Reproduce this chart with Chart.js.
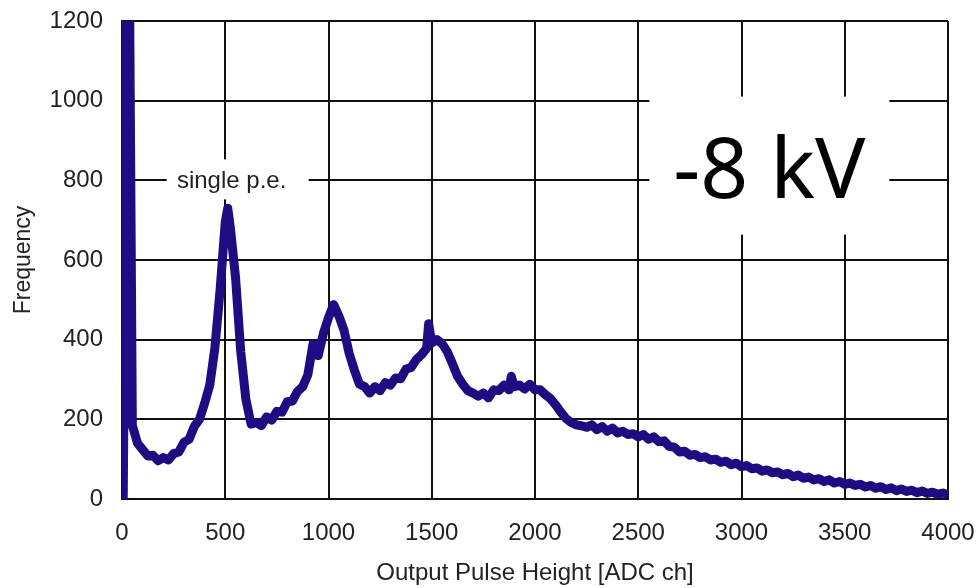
<!DOCTYPE html>
<html>
<head>
<meta charset="utf-8">
<script src="https://cdn.jsdelivr.net/npm/chart.js@4.4.1/dist/chart.umd.min.js"></script>
<style>
  html, body { margin: 0; padding: 0; background: #fff; }
  canvas { display: block; }
</style>
</head>
<body>
<canvas id="chart_ctx" width="976" height="588"></canvas>
<script>
// ADC channel of each sample
var channels = [0, 6, 15, 25, 35, 45,
  50, 75, 100, 125, 150, 175, 200, 225, 250, 275, 300, 325, 350, 375, 400, 425, 450, 475,
  500, 512, 525, 550, 575, 600, 625, 650, 675, 700, 725, 750, 775, 800, 825, 850, 875, 900, 925, 950, 975,
  1000, 1025, 1050, 1075, 1100, 1125, 1150, 1175, 1200, 1225, 1250, 1275, 1300, 1325, 1350, 1375, 1400, 1425, 1450, 1475, 1485,
  1500, 1525, 1550, 1575, 1600, 1625, 1650, 1675, 1700, 1725, 1750, 1775, 1800, 1825, 1850, 1875, 1885, 1900, 1925, 1950, 1975,
  2000, 2025, 2050, 2075, 2100, 2125, 2150, 2175, 2200, 2225, 2250, 2275, 2300, 2325, 2350, 2375, 2400, 2425, 2450, 2475,
  2500, 2525, 2550, 2575, 2600, 2625, 2650, 2675, 2700, 2725, 2750, 2775, 2800, 2825, 2850, 2875, 2900, 2925, 2950, 2975,
  3000, 3025, 3050, 3075, 3100, 3125, 3150, 3175, 3200, 3225, 3250, 3275, 3300, 3325, 3350, 3375, 3400, 3425, 3450, 3475,
  3500, 3525, 3550, 3575, 3600, 3625, 3650, 3675, 3700, 3725, 3750, 3775, 3800, 3825, 3850, 3875, 3900, 3925, 3950, 3975, 4000];

// counts
var counts = [460, 5, 600, 1400, 1400, 600,
  185, 140, 124, 108, 110, 96, 104, 98, 114, 118, 142, 150, 182, 200, 240, 286, 380, 525,
  695, 730, 680, 555, 370, 250, 188, 192, 184, 206, 198, 220, 218, 244, 246, 270, 282, 312, 390, 360, 415,
  455, 488, 460, 424, 366, 324, 288, 282, 266, 282, 272, 292, 286, 304, 302, 326, 330, 350, 362, 378, 440,
  392, 400, 390, 370, 340, 308, 288, 272, 266, 258, 266, 254, 274, 272, 286, 274, 308, 282, 286, 276, 288,
  274, 274, 262, 252, 236, 218, 202, 192, 186, 184, 180, 186, 174, 182, 170, 178, 166, 170, 162, 164, 156,
  162, 150, 156, 144, 146, 132, 130, 118, 120, 110, 112, 104, 106, 98, 100, 92, 95, 86, 90, 81,
  84, 76, 78, 70, 73, 66, 68, 61, 64, 56, 60, 52, 55, 48, 51, 44, 48, 40, 44, 37,
  40, 34, 37, 30, 34, 27, 31, 24, 28, 21, 25, 19, 22, 16, 20, 14, 17, 12, 15, 11, 16];

var xTicks = [0, 500, 1000, 1500, 2000, 2500, 3000, 3500, 4000];
var yTicks = [0, 200, 400, 600, 800, 1000, 1200];

var xTitle = 'Output Pulse Height [ADC ch]';
var yTitle = 'Frequency';
var peakLabel = 'single p.e.';
var voltageLabel = '-8 kV';

var points = [];
for (var i = 0; i < channels.length; i++) {
    points.push({x: channels[i], y: counts[i]});
}

const FONT = '"Liberation Sans", Arial, sans-serif';

// white boxed labels drawn over the grid
const labelBoxes = {
    id: 'labelBoxes',
    afterDraw(chart) {
        const c = chart.ctx;
        const xs = chart.scales.x, ys = chart.scales.y;
        c.save();
        // single p.e.
        let cx = xs.getPixelForValue(560), cy = ys.getPixelForValue(800);
        c.fillStyle = '#fff';
        c.fillRect(cx - 71, cy - 21, 142, 40);
        c.fillStyle = '#222';
        c.font = '24px ' + FONT;
        c.textAlign = 'center';
        c.textBaseline = 'middle';
        c.fillText(peakLabel, cx - 6, cy + 1);
        // -8 kV
        cx = xs.getPixelForValue(3135);
        cy = ys.getPixelForValue(837);
        c.fillStyle = '#fff';
        c.fillRect(cx - 120, cy - 69, 240, 138);
        c.fillStyle = '#000';
        c.font = '84px "Noto Sans", "Open Sans", sans-serif';
        c.textBaseline = 'alphabetic';
        c.fillText(voltageLabel, cx, cy + 32);
        c.restore();
    }
};

function noAutoPad(s) {
    s.paddingLeft = 0;
    s.paddingRight = 0;
    s.paddingTop = 0;
    s.paddingBottom = 0;
}

var ctx = document.getElementById('chart_ctx');
var myChart = new Chart(ctx, {
    type: 'line',
    data: {
        datasets: [{
            data: points,
            borderColor: '#200c82',
            borderWidth: 9,
            borderJoinStyle: 'round',
            pointRadius: 0,
            tension: 0,
            fill: false
        }]
    },
    options: {
        animation: false,
        responsive: false,
        events: [],
        layout: { padding: { top: 21, right: 28, left: 0, bottom: 0 } },
        plugins: {
            legend: { display: false },
            tooltip: { enabled: false }
        },
        scales: {
            x: {
                type: 'linear',
                min: 0,
                max: 4000,
                afterFit: function (s) { s.height = 89; noAutoPad(s); },
                afterBuildTicks: function (s) { s.ticks = xTicks.map(function (v) { return {value: v}; }); },
                grid: { color: '#111', lineWidth: 2, drawTicks: false },
                border: { color: '#111', width: 2 },
                ticks: {
                    padding: 20,
                    color: '#222',
                    maxRotation: 0,
                    callback: function (v) { return String(v); },
                    font: { family: FONT, size: 24 }
                },
                title: {
                    display: true,
                    text: xTitle,
                    color: '#222',
                    padding: { top: 2, bottom: 0 },
                    font: { family: FONT, size: 24 }
                }
            },
            y: {
                min: 0,
                max: 1200,
                afterFit: function (s) { s.width = 122; noAutoPad(s); },
                afterBuildTicks: function (s) { s.ticks = yTicks.map(function (v) { return {value: v}; }); },
                grid: { color: '#111', lineWidth: 2, drawTicks: false },
                border: { color: '#111', width: 2 },
                ticks: {
                    padding: 19,
                    color: '#222',
                    callback: function (v) { return String(v); },
                    font: { family: FONT, size: 24 }
                },
                title: {
                    display: true,
                    text: yTitle,
                    color: '#222',
                    padding: { top: 10, bottom: 0 },
                    font: { family: FONT, size: 23 }
                }
            }
        }
    },
    plugins: [labelBoxes]
});
</script>
</body>
</html>
